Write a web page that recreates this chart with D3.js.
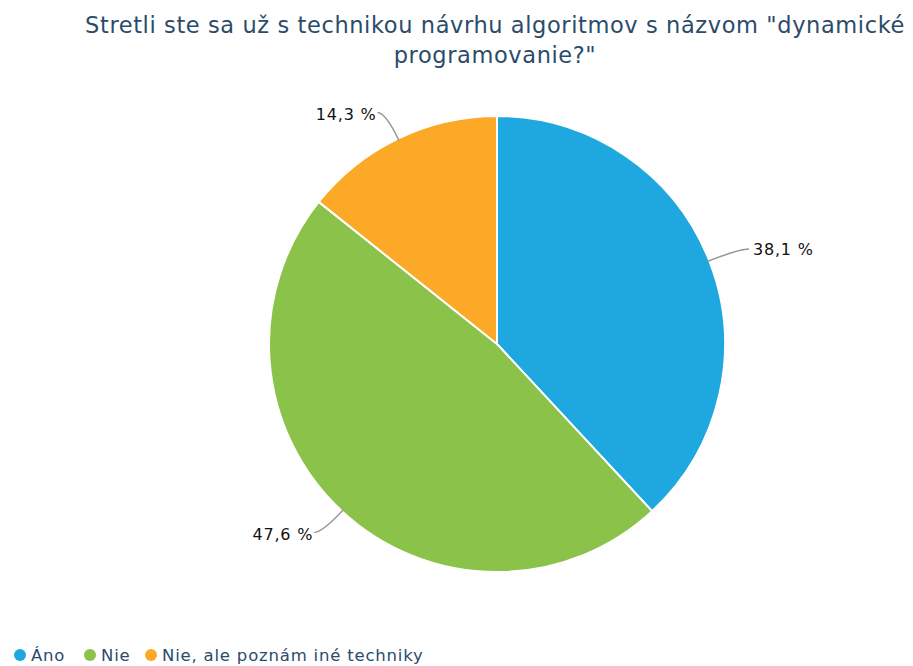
<!DOCTYPE html>
<html>
  <meta charset="utf-8">
  <head>
    <script src="https://d3js.org/d3.v7.min.js"></script>
    <style>
      body { margin: 0; background: #fff; }
      text { font-family: Verdana, "DejaVu Sans", sans-serif; }
    </style>
  </head>
  <body>
    <div id="viz"></div>

    <script type="text/javascript">
      // answers and vote counts (8 / 10 / 3 of 21)
      var categories = ["Áno", "Nie", "Nie, ale poznám iné techniky"];
      var counts = [8, 10, 3];
      var colors = ["#1fa8e0", "#8bc34a", "#fba926"];
      var title = ["Stretli ste sa už s technikou návrhu algoritmov s názvom \"dynamické", "programovanie?\""];

      var width = 913, height = 666;
      var cx = 497, cy = 344, radius = 228;

      var svg = d3.select("#viz")
        .append("svg")
          .attr("width", width)
          .attr("height", height);

      // title
      svg.append("g").selectAll("text")
        .data(title)
        .enter()
        .append("text")
          .attr("x", 495)
          .attr("y", (d, i) => 33 + i * 30)
          .attr("text-anchor", "middle")
          .attr("fill", "#2b4b6b")
          .style("font-size", "22.5px")
          .style("letter-spacing", "0.6px")
          .text((d) => d);

      var data = categories.map((c, i) => ({name: c, value: counts[i], color: colors[i]}));
      var total = d3.sum(counts);

      var pie = d3.pie().value((d) => d.value).sort(null);
      var arc = d3.arc().innerRadius(0).outerRadius(radius);
      var arcs = pie(data);

      var g = svg.append("g")
        .attr("transform", "translate(" + cx + "," + cy + ")");

      g.selectAll("path.slice")
        .data(arcs)
        .enter()
        .append("path")
          .attr("class", "slice")
          .attr("d", arc)
          .attr("fill", (d) => d.data.color)
          .attr("stroke", "#fff")
          .attr("stroke-width", 2);

      // leader lines + labels
      function pt(a, r) { return [Math.sin(a) * r, -Math.cos(a) * r]; }
      var fmt = (v) => d3.format(".1f")(v / total * 100).replace(".", ",") + " %";

      arcs.forEach(function(d) {
        var a = (d.startAngle + d.endAngle) / 2;
        var side = Math.sin(a) >= 0 ? 1 : -1;
        var p1 = pt(a, radius - 2);
        var p2 = pt(a, radius + (side > 0 ? 32 : 29));
        var p3 = [p2[0] + side * (side > 0 ? 10 : 8), p2[1]];
        g.append("path")
          .attr("d", "M" + p1 + "Q" + p2 + " " + p3)
          .attr("fill", "none")
          .attr("stroke", "#999")
          .attr("stroke-width", 1.5);
        g.append("text")
          .attr("x", p3[0] + (side > 0 ? 4 : -1))
          .attr("y", p3[1] + (side > 0 ? 0 : 2))
          .attr("dy", "0.35em")
          .attr("text-anchor", side > 0 ? "start" : "end")
          .attr("fill", "#111")
          .style("font-size", "16px")
          .style("letter-spacing", "0.8px")
          .text(fmt(d.data.value));
      });

      // legend
      var legendX = [20, 90, 151];
      var legend = svg.append("g").selectAll("g")
        .data(data)
        .enter()
        .append("g")
          .attr("transform", (d, i) => "translate(" + legendX[i] + ",655)");
      legend.append("circle")
        .attr("r", 6)
        .attr("fill", (d) => d.color);
      legend.append("text")
        .attr("x", 11)
        .attr("dy", "0.35em")
        .attr("fill", "#2b4b6b")
        .style("font-size", "16.5px")
        .style("letter-spacing", "0.8px")
        .text((d) => d.name);
    </script>
  </body>
</html>
